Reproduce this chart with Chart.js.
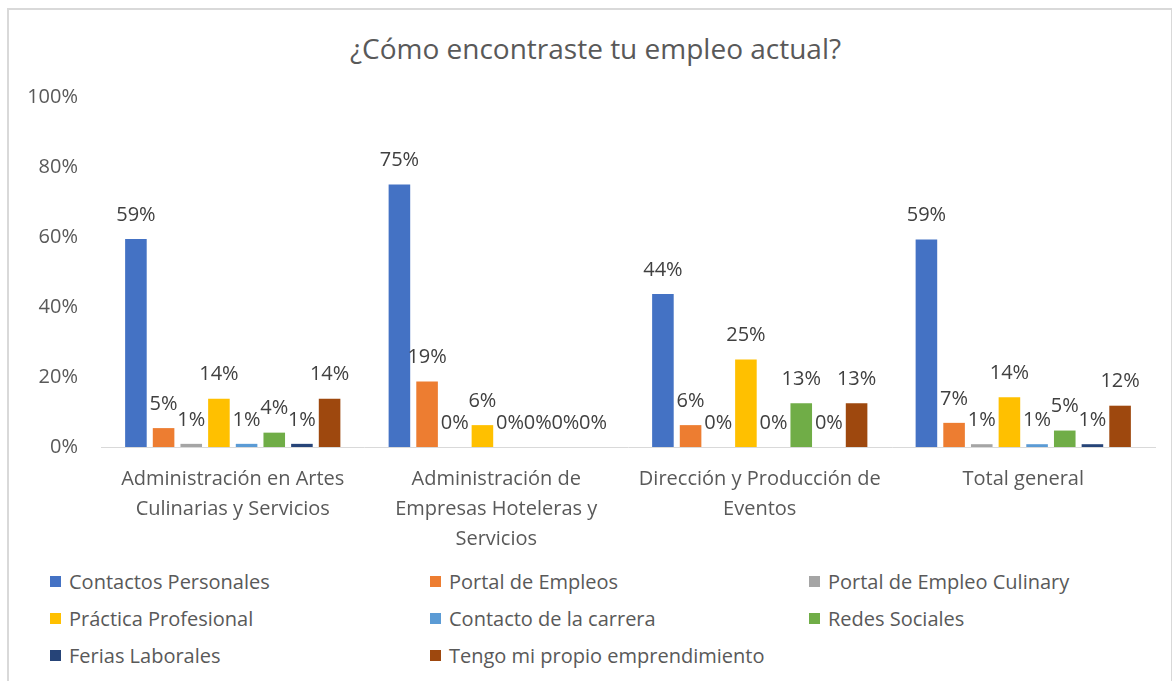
<!DOCTYPE html>
<html>
<head>
<meta charset="utf-8">
<script src="https://cdn.jsdelivr.net/npm/chart.js@4.4.0/dist/chart.umd.min.js"></script>
<style>
    body { margin: 0; background: #fff; font-family: "Open Sans", sans-serif; }
    #frame { position: absolute; left: 7px; top: 8px; width: 1162px; height: 700px; border: 2px solid #d9d9d9; }
    #titulo { position: absolute; left: 0; top: 29px; width: 1191px; text-align: center; font-size: 28px; color: #595959; line-height: 38px; }
    #wrap { position: absolute; left: 0; top: 0; width: 1172px; height: 560px; }
    #legend { position: absolute; left: 50px; top: 569px; width: 1110px; display: grid;
              grid-template-columns: 380px 379px 340px; row-gap: 13px; }
    #legend div { display: flex; align-items: center; font-size: 20px; color: #595959; height: 24px; white-space: nowrap; }
    #legend span { display: inline-block; width: 11px; height: 11px; margin-right: 8px; }
</style>
</head>
<body>
<div id="frame"></div>
<div id="titulo"></div>
<div id="wrap"><canvas id="grafica"></canvas></div>
<div id="legend"></div>
<script>
var titulo = "¿Cómo encontraste tu empleo actual?";
var carreras = [
    ["Administración en Artes", "Culinarias y Servicios"],
    ["Administración de", "Empresas Hoteleras y", "Servicios"],
    ["Dirección y Producción de", "Eventos"],
    "Total general"
];
var yTicks = [0, 20, 40, 60, 80, 100];

var contactosPersonales = [59.4, 75, 43.75, 59.3];
var portalEmpleos      = [5.4, 18.75, 6.25, 6.9];
var portalCulinary     = [0.9, 0, 0, 0.8];
var practicaProfesional = [13.8, 6.25, 25, 14.2];
var contactoCarrera    = [0.9, 0, 0, 0.8];
var redesSociales      = [4.1, 0, 12.5, 4.7];
var feriasLaborales    = [0.9, 0, 0, 0.8];
var propioEmprend      = [13.8, 0, 12.5, 11.8];

var series = [
    ["Contactos Personales", contactosPersonales, "#4472C4"],
    ["Portal de Empleos", portalEmpleos, "#ED7D31"],
    ["Portal de Empleo Culinary", portalCulinary, "#A5A5A5"],
    ["Práctica Profesional", practicaProfesional, "#FFC000"],
    ["Contacto de la carrera", contactoCarrera, "#5B9BD5"],
    ["Redes Sociales", redesSociales, "#70AD47"],
    ["Ferias Laborales", feriasLaborales, "#264478"],
    ["Tengo mi propio emprendimiento", propioEmprend, "#9E480E"]
];

document.getElementById('titulo').textContent = titulo;

var data_db = [];
series.forEach(function(s) {
    data_db.push({
        label: s[0],
        data: s[1],
        backgroundColor: s[2],
        borderWidth: 0,
        categoryPercentage: 0.84,
        barPercentage: 0.78
    });
});

// etiquetas de porcentaje encima de cada barra
var etiquetas = {
    id: 'etiquetas',
    afterDatasetsDraw: function(chart) {
        var ctx = chart.ctx;
        ctx.save();
        ctx.font = '20px "Open Sans"';
        ctx.fillStyle = '#404040';
        ctx.textAlign = 'center';
        ctx.textBaseline = 'middle';
        chart.data.datasets.forEach(function(ds, i) {
            chart.getDatasetMeta(i).data.forEach(function(bar, j) {
                ctx.fillText(Math.round(ds.data[j]) + '%', bar.x, bar.y - 24);
            });
        });
        ctx.restore();
    }
};

new Chart(document.getElementById("grafica"), {
    type: 'bar',
    data: { labels: carreras, datasets: data_db },
    options: {
        responsive: true,
        maintainAspectRatio: false,
        animation: false,
        layout: { padding: { left: 0, right: 17, top: 97, bottom: 0 } },
        plugins: {
            legend: { display: false },
            tooltip: { enabled: false }
        },
        scales: {
            x: {
                afterFit: function(scale) { scale.height = 113; },
                grid: { display: false, drawTicks: false },
                border: { color: '#d9d9d9', width: 1 },
                ticks: {
                    color: '#595959',
                    padding: 17,
                    maxRotation: 0,
                    autoSkip: false,
                    font: { family: 'Open Sans', size: 20, lineHeight: 1.5 }
                }
            },
            y: {
                min: 0,
                max: 100,
                afterFit: function(scale) { scale.width = 101; },
                afterBuildTicks: function(scale) {
                    scale.ticks = yTicks.map(function(v) { return { value: v }; });
                },
                grid: { display: false, drawTicks: false },
                border: { display: false },
                ticks: {
                    color: '#595959',
                    padding: 23,
                    font: { family: 'Open Sans', size: 20 },
                    callback: function(v) { return v + '%'; }
                }
            }
        }
    },
    plugins: [etiquetas]
});

var leyenda = document.getElementById('legend');
series.forEach(function(s) {
    var d = document.createElement('div');
    d.innerHTML = '<span style="background:' + s[2] + '"></span>' + s[0];
    leyenda.appendChild(d);
});
</script>
</body>
</html>
